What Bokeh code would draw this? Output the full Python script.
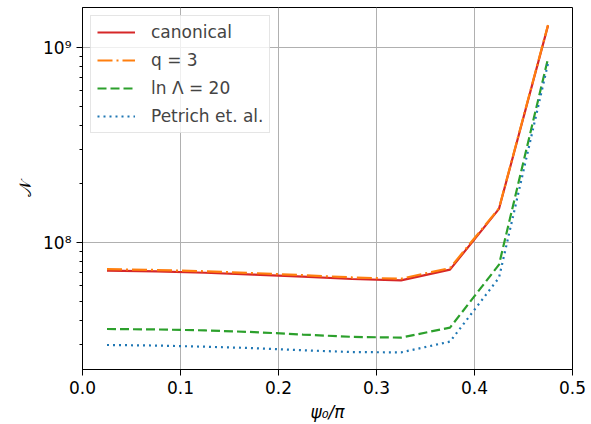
from bokeh.plotting import figure
from bokeh.models import Range1d, FixedTicker, Legend, LegendItem, PrintfTickFormatter
from bokeh.embed import file_html
from bokeh.resources import INLINE

# ---- data ----
psi = [0.025, 0.075, 0.125, 0.175, 0.225, 0.275, 0.325, 0.375, 0.425, 0.475]
canonical = [7.18e7, 7.12e7, 7.00e7, 6.85e7, 6.68e7, 6.50e7, 6.40e7, 7.26e7, 1.49e8, 1.30e9]
q3 = [7.30e7, 7.23e7, 7.12e7, 6.97e7, 6.80e7, 6.62e7, 6.52e7, 7.40e7, 1.50e8, 1.31e9]
lnlambda20 = [3.60e7, 3.58e7, 3.54e7, 3.47e7, 3.37e7, 3.28e7, 3.25e7, 3.66e7, 7.70e7, 8.80e8]
petrich = [2.98e7, 2.96e7, 2.92e7, 2.87e7, 2.80e7, 2.74e7, 2.73e7, 3.10e7, 6.60e7, 8.30e8]

labels = ["canonical", "q = 3", "ln Λ = 20", "Petrich et. al."]
x_ticks = [0.0, 0.1, 0.2, 0.3, 0.4, 0.5]
y_major = [1e7, 1e8, 1e9]
y_major_labels = ["10⁷", "10⁸", "10⁹"]
y_minor = [m * d for d in (1e7, 1e8, 1e9) for m in range(2, 10)]

FONT = "DejaVu Sans"
FS = "17px"
LW = 2.2

p = figure(width=591, height=424, output_backend="svg", toolbar_location=None,
           y_axis_type="log",
           x_range=Range1d(0.0, 0.5), y_range=Range1d(2.23e7, 1.61e9),
           min_border_left=82, min_border_right=19, min_border_top=7,
           min_border_bottom=52)

p.outline_line_color = "black"
p.outline_line_alpha = 1.0
p.outline_line_width = 1

r1 = p.line(psi, canonical, line_color="#d62728", line_width=LW)
r2 = p.line(psi, q3, line_color="#ff7f0e", line_width=LW, line_dash="15 4 2 4")
r3 = p.line(psi, lnlambda20, line_color="#2ca02c", line_width=LW, line_dash="9 4")
r4 = p.line(psi, petrich, line_color="#1f77b4", line_width=LW, line_dash="2 4")

p.xaxis.ticker = FixedTicker(ticks=x_ticks)
p.xaxis.formatter = PrintfTickFormatter(format="%.1f")
p.yaxis.ticker = FixedTicker(ticks=y_major, minor_ticks=y_minor)
p.yaxis.major_label_overrides = {v: s for v, s in zip(y_major, y_major_labels)}

for ax in (p.xaxis[0], p.yaxis[0]):
    ax.major_label_text_font = FONT
    ax.major_label_text_font_size = FS
    ax.major_label_text_color = "black"
    ax.axis_label_text_font = FONT
    ax.axis_label_text_font_size = FS
    ax.axis_label_text_font_style = "normal"
    ax.axis_label_text_color = "black"
    ax.major_tick_in = 0
    ax.major_tick_out = 6
    ax.minor_tick_in = 0
    ax.minor_tick_out = 3
    ax.axis_line_color = "black"
    ax.major_tick_line_color = "black"
    ax.minor_tick_line_color = "black"

p.xaxis.minor_tick_line_color = None
p.xaxis.axis_label = "ψ₀/π"
p.xaxis.axis_label_text_font_style = "italic"
p.yaxis.axis_label = "𝒩"

p.xgrid.grid_line_color = "#b0b0b0"
p.ygrid.grid_line_color = "#b0b0b0"
p.xgrid.grid_line_width = 1
p.ygrid.grid_line_width = 1

legend = Legend(items=[LegendItem(label=labels[0], renderers=[r1]),
                       LegendItem(label=labels[1], renderers=[r2]),
                       LegendItem(label=labels[2], renderers=[r3]),
                       LegendItem(label=labels[3], renderers=[r4])],
                location="top_left")
legend.margin = 8
legend.padding = 6
legend.spacing = 8
legend.glyph_width = 38
legend.glyph_height = 20
legend.label_height = 20
legend.label_standoff = 16
legend.label_text_font = FONT
legend.label_text_font_size = FS
legend.border_line_color = "#cccccc"
legend.background_fill_alpha = 0.8
p.add_layout(legend)

open("out.html", "w").write(file_html(p, INLINE))
